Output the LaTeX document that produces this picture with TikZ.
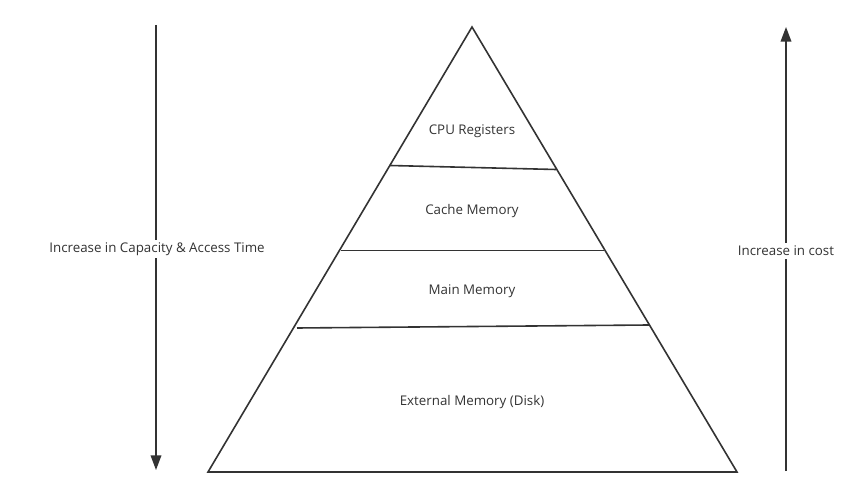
\documentclass[tikz,border=0pt]{standalone}
\usepackage{fontspec}
\setmainfont{Open Sans}
\usetikzlibrary{arrows.meta}

\definecolor{linegray}{HTML}{333333}
\definecolor{textgray}{HTML}{333333}

\begin{document}
\begin{tikzpicture}[x=0.75pt,y=-0.75pt,
		edge/.style={draw=linegray, line width=1.2pt, line join=miter},
		arrowline/.style={draw=linegray, line width=1.1pt, -{Triangle[length=11pt,width=8pt]}},
		lbl/.style={text=textgray, font=\fontsize{10}{12}\selectfont, inner sep=2pt},
		sidelbl/.style={lbl, fill=white}]
		\useasboundingbox (0,0) rectangle (849,498);
		% pyramid
		\coordinate (apex) at (472,27);
		\coordinate (baseL) at (208,472);
		\coordinate (baseR) at (737,472);
		\draw [edge] (apex)--(baseR)--(baseL)--cycle ;
		% layers
		\coordinate (oneL) at (390,165.5);
		\coordinate (oneR) at (556,169.5);
		\coordinate (twoL) at (341,250.5);
		\coordinate (twoR) at (604,250.5);
		\coordinate (threeL) at (297,328);
		\coordinate (threeR) at (649,325);
		\draw [edge] (oneL)--(oneR) ;
		\draw [edge] (twoL)--(twoR) ;
		\draw [edge] (threeL)--(threeR) ;
		\node [lbl] (cpu) at (472,131) {CPU Registers};
		\node [lbl] (cache) at (472,211) {Cache Memory};
		\node [lbl] (main) at (472,291) {Main Memory};
		\node [lbl] (disk) at (472,402) {External Memory (Disk)};
		% side arrows
		\coordinate (capTop) at (156,25);
		\coordinate (capEnd) at (156,470);
		\coordinate (costBot) at (786,471);
		\coordinate (costEnd) at (786,27);
		\draw [arrowline] (capTop)--(capEnd) ;
		\draw [arrowline] (costBot)--(costEnd) ;
		\node [sidelbl] (capacity) at (157,249) {Increase in Capacity \& Access Time};
		\node [sidelbl] (cost) at (786,251) {Increase in cost};
	\end{tikzpicture}
\end{document}
